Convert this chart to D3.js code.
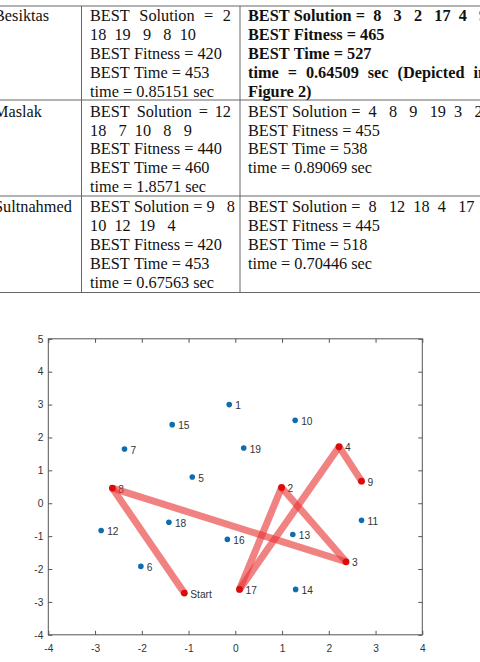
<!DOCTYPE html>
<html lang="en">
<head>
<meta charset="UTF-8">
<title>Route result table and map</title>
<script src="https://d3js.org/d3.v7.min.js"></script>
<style>
  body{margin:0;background:#fff;}
  .tbl text{font-family:"Liberation Serif","Times New Roman",serif;font-size:16.3px;fill:#111;}
  .tbl text.bold{font-weight:bold;}
  .tbl line{stroke:#666;stroke-width:1;}
  .chart text{font-family:"Liberation Sans",Arial,sans-serif;font-size:10.2px;fill:#333;}
  .chart .axis path,.chart .axis line{stroke:#555;}
</style>
</head>
<body>
<svg id="fig" width="480" height="662"></svg>
<script>
// ---- table text ----
const places = ["Besiktas", "Maslak", "Sultnahmed"];
const colA = [
  ["BEST Solution = 2", "18  19   9   8  10", "BEST Fitness = 420", "BEST Time = 453", "time = 0.85151 sec"],
  ["BEST Solution = 12", "18   7  10   8   9", "BEST Fitness = 440", "BEST Time = 460", "time = 1.8571 sec"],
  ["BEST Solution = 9   8", "10  12  19   4", "BEST Fitness = 420", "BEST Time = 453", "time = 0.67563 sec"]
];
const colB = [
  ["BEST Solution =  8   3   2   17  4   9", "BEST Fitness = 465", "BEST Time = 527", "time = 0.64509 sec (Depicted in", "Figure 2)"],
  ["BEST Solution =  4   8   9   19  3   2", "BEST Fitness = 455", "BEST Time = 538", "time = 0.89069 sec"],
  ["BEST Solution =  8   12  18  4   17 19", "BEST Fitness = 445", "BEST Time = 518", "time = 0.70446 sec"]
];

// ---- map points ----
const ids = ["1","2","3","4","5","6","7","8","9","10","11","12","13","14","15","16","17","18","19","Start"];
const px = [-0.13, 0.99, 2.37, 2.22, -0.92, -2.02, -2.37, -2.63, 2.70, 1.28, 2.70, -2.87, 1.23, 1.29, -1.35, -0.17, 0.09, -1.42, 0.18, -1.09];
const py = [3.00, 0.48, -1.78, 1.72, 0.80, -1.92, 1.65, 0.46, 0.67, 2.52, -0.52, -0.83, -0.95, -2.62, 2.39, -1.10, -2.62, -0.58, 1.68, -2.73];
const route = ["Start", "8", "3", "2", "17", "4", "9"];
const xTicks = [-4, -3, -2, -1, 0, 1, 2, 3, 4];
const yTicks = [-4, -3, -2, -1, 0, 1, 2, 3, 4, 5];

const svg = d3.select("#fig");

// ---- table ----
const tbl = svg.append("g").attr("class", "tbl");
const rowTop = [6, 100, 196, 292.5];
const firstBase = [21, 116.6, 212.3];
const lh = 18.9;
const colX = [-6, 90, 248];
// lines stretched to a right edge (justified in the paper)
const justify = {"A0-0": 231, "A1-0": 231, "B0-3": 487};

rowTop.forEach(y => tbl.append("line").attr("x1", 0).attr("x2", 480).attr("y1", y).attr("y2", y));
[81.5, 240].forEach(x => tbl.append("line").attr("x1", x).attr("x2", x).attr("y1", rowTop[0]).attr("y2", rowTop[3]));

function spaceWidth(bold) {
  const t = tbl.append("text").attr("class", bold ? "bold" : null).text("x x");
  const a = t.node().getComputedTextLength();
  t.text("xx");
  const b = t.node().getComputedTextLength();
  t.remove();
  return a - b;
}
const spW = [spaceWidth(false), spaceWidth(true)];

// each word is its own tspan; gaps = number of spaces * space width
function put(str, x, y, bold, endX) {
  const t = tbl.append("text").attr("y", y);
  if (bold) t.attr("class", "bold");
  const words = str.split(/ +/);
  const gaps = (str.match(/ +/g) || []).map(g => g.length);
  const spans = words.map(w => t.append("tspan").text(w));
  const ws = spans.map(s => s.node().getComputedTextLength());
  const sw = spW[bold ? 1 : 0];
  let extra = 0;
  if (endX && gaps.length) {
    const natural = d3.sum(ws) + d3.sum(gaps) * sw;
    extra = (endX - x - natural) / gaps.length;
  }
  let cx = x;
  spans.forEach((s, k) => {
    s.attr("x", cx);
    cx += ws[k] + (k < gaps.length ? gaps[k] * sw + extra : 0);
  });
}

places.forEach((p, i) => {
  put(p, colX[0], firstBase[i], false);
  colA[i].forEach((s, j) => put(s, colX[1], firstBase[i] + j * lh, false, justify["A" + i + "-" + j]));
  colB[i].forEach((s, j) => put(s, colX[2], firstBase[i] + j * lh, i === 0, justify["B" + i + "-" + j]));
});

// ---- map ----
const chart = svg.append("g").attr("class", "chart");
const x = d3.scaleLinear().domain([-4, 4]).range([48.3, 422.3]);
const y = d3.scaleLinear().domain([-4, 5]).range([634.8, 338.8]);
const fmt = d => String(d);

chart.append("rect")
  .attr("x", x(-4)).attr("y", y(5))
  .attr("width", x(4) - x(-4)).attr("height", y(-4) - y(5))
  .attr("fill", "none").attr("stroke", "#555");

chart.append("g").attr("class", "axis")
  .attr("transform", "translate(0," + y(-4) + ")")
  .call(d3.axisBottom(x).tickValues(xTicks).tickFormat(fmt).tickSize(-4).tickSizeOuter(0).tickPadding(10));
chart.append("g").attr("class", "axis")
  .attr("transform", "translate(" + x(-4) + ",0)")
  .call(d3.axisLeft(y).tickValues(yTicks).tickFormat(fmt).tickSize(-4).tickSizeOuter(0).tickPadding(5));
chart.append("g").attr("class", "axis")
  .attr("transform", "translate(0," + y(5) + ")")
  .call(d3.axisTop(x).tickValues(xTicks).tickFormat("").tickSize(-4).tickSizeOuter(0));
chart.append("g").attr("class", "axis")
  .attr("transform", "translate(" + x(4) + ",0)")
  .call(d3.axisRight(y).tickValues(yTicks).tickFormat("").tickSize(-4).tickSizeOuter(0));
chart.selectAll(".axis .domain").remove();
chart.selectAll(".axis text").attr("fill", "#333").style("font-size", "10.2px");

const pts = ids.map((id, i) => ({id: id, x: px[i], y: py[i]}));
const byId = new Map(pts.map(d => [d.id, d]));

chart.append("g").selectAll("circle").data(pts).enter()
  .append("circle")
  .attr("cx", d => x(d.x)).attr("cy", d => y(d.y)).attr("r", 2.8)
  .attr("fill", "#0f6cae");

chart.append("g").selectAll("text").data(pts).enter()
  .append("text")
  .attr("x", d => x(d.x) + 6).attr("y", d => y(d.y) + 4.6)
  .text(d => d.id);

const legs = d3.pairs(route.map(r => byId.get(r)));
chart.append("g").selectAll("line").data(legs).enter()
  .append("line")
  .attr("x1", d => x(d[0].x)).attr("y1", d => y(d[0].y))
  .attr("x2", d => x(d[1].x)).attr("y2", d => y(d[1].y))
  .attr("stroke", "#e83535").attr("stroke-opacity", 0.62)
  .attr("stroke-width", 7).attr("stroke-linecap", "butt");

chart.append("g").selectAll("circle").data(route.map(r => byId.get(r))).enter()
  .append("circle")
  .attr("cx", d => x(d.x)).attr("cy", d => y(d.y)).attr("r", 3.4)
  .attr("fill", "#dd0a0a");
</script>
</body>
</html>
